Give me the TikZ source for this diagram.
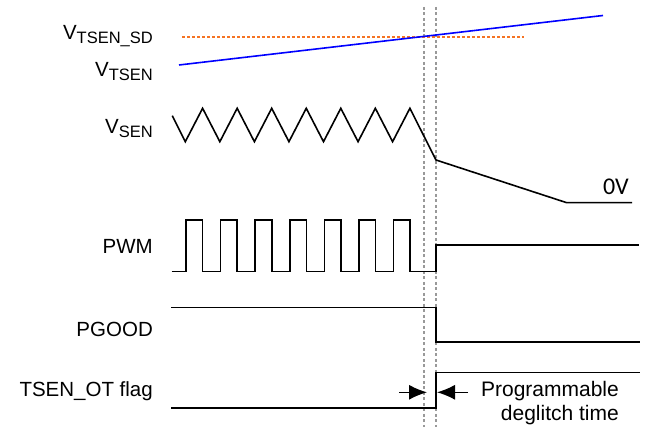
\documentclass[tikz,border=0pt]{standalone}
\usepackage{fontspec}
\setmainfont{Liberation Sans}
\newfontfamily\zerofont{Carlito}
\usetikzlibrary{arrows.meta,positioning}

\newcommand{\vsub}[1]{V\raisebox{-4pt}{\fontsize{16.5}{16.5}\selectfont #1}}

\begin{document}
\begin{tikzpicture}[x=1pt,y=-1pt,
    siglabel/.style={anchor=base east,inner sep=0pt,font=\fontsize{20.5}{24}\selectfont},
    wave/.style={line width=1.6pt,line join=miter},
    marker/.style={black!40,line width=1.1pt,dash pattern=on 3pt off 2.5pt},
    gaparrow/.style={line width=1.3pt,-{Latex[length=18pt,width=15pt]}}]
	\useasboundingbox (0,0) rectangle (646,427);

	% signal names
	\node[siglabel] (vsd) at (153,39.3) {\vsub{TSEN\_SD}};
	\node[siglabel] (vts) at (153,76.7) {\vsub{TSEN}};
	\node[siglabel] (vsen) at (153,133.3) {\vsub{SEN}};
	\node[siglabel] (pwm) at (153,253.3) {PWM};
	\node[siglabel] (pgood) at (153,336.7) {PGOOD};
	\node[siglabel] (flag) at (153,396.7) {TSEN\_OT flag};

	% trip and deglitch markers
	\coordinate (trip) at (424,7);
	\coordinate (deg) at (436,7);
	\draw[marker] (trip) -- (trip |- 0,427);
	\draw[marker] (deg) -- (deg |- 0,427);

	% threshold and sensed temperature
	\draw[line width=1.6pt,color={rgb,255:red,245;green,115;blue,35},dash pattern=on 3pt off 2pt]
		(182,37) -- (524,37);
	\draw[line width=1.6pt,blue] (179,65) -- (603,15.5);

	% VSEN
	\draw[wave] (172.3,115.7)
		\foreach \k in {0,...,6} { -- (185.3+34.55*\k,141.7) -- (202.6+34.55*\k,108.3) }
		-- (deg |- 0,160) -- (566.7,202.7) coordinate (zend) -- (632,202.7);
	\node[anchor=base east,inner sep=0pt,font=\zerofont\fontsize{24}{24}\selectfont] (zero)
		at (629,195) {0V};

	% PWM
	\draw[wave] (171.5,271.7)
		\foreach \k in {0,...,6} { -- (186+34.6*\k,271.7) -- (186+34.6*\k,220)
			-- (202.5+34.6*\k,220) -- (202.5+34.6*\k,271.7) }
		-- (deg |- 0,271.7) -- (deg |- 0,245) -- (638.5,245);

	% PGOOD
	\draw[wave] (171,307.7) -- (deg |- 0,307.7) -- (deg |- 0,342.3) -- (640,342.3);

	% TSEN_OT flag
	\draw[wave] (171,408.3) -- (deg |- 0,408.3) -- (deg |- 0,372.7) -- (640,372.7);

	% deglitch time
	\coordinate (gl) at (399,392.3);
	\coordinate (gr) at (468,392.3);
	\draw[gaparrow] (gl) -- ([xshift=3pt]trip |- gl);
	\draw[gaparrow] (gr) -- ([xshift=1pt]deg |- gr);
	\node[anchor=north east,align=right,inner sep=0pt,font=\fontsize{21}{23.5}\selectfont] (dtime)
		at (619,381.5) {Programmable\\deglitch time};
\end{tikzpicture}
\end{document}
